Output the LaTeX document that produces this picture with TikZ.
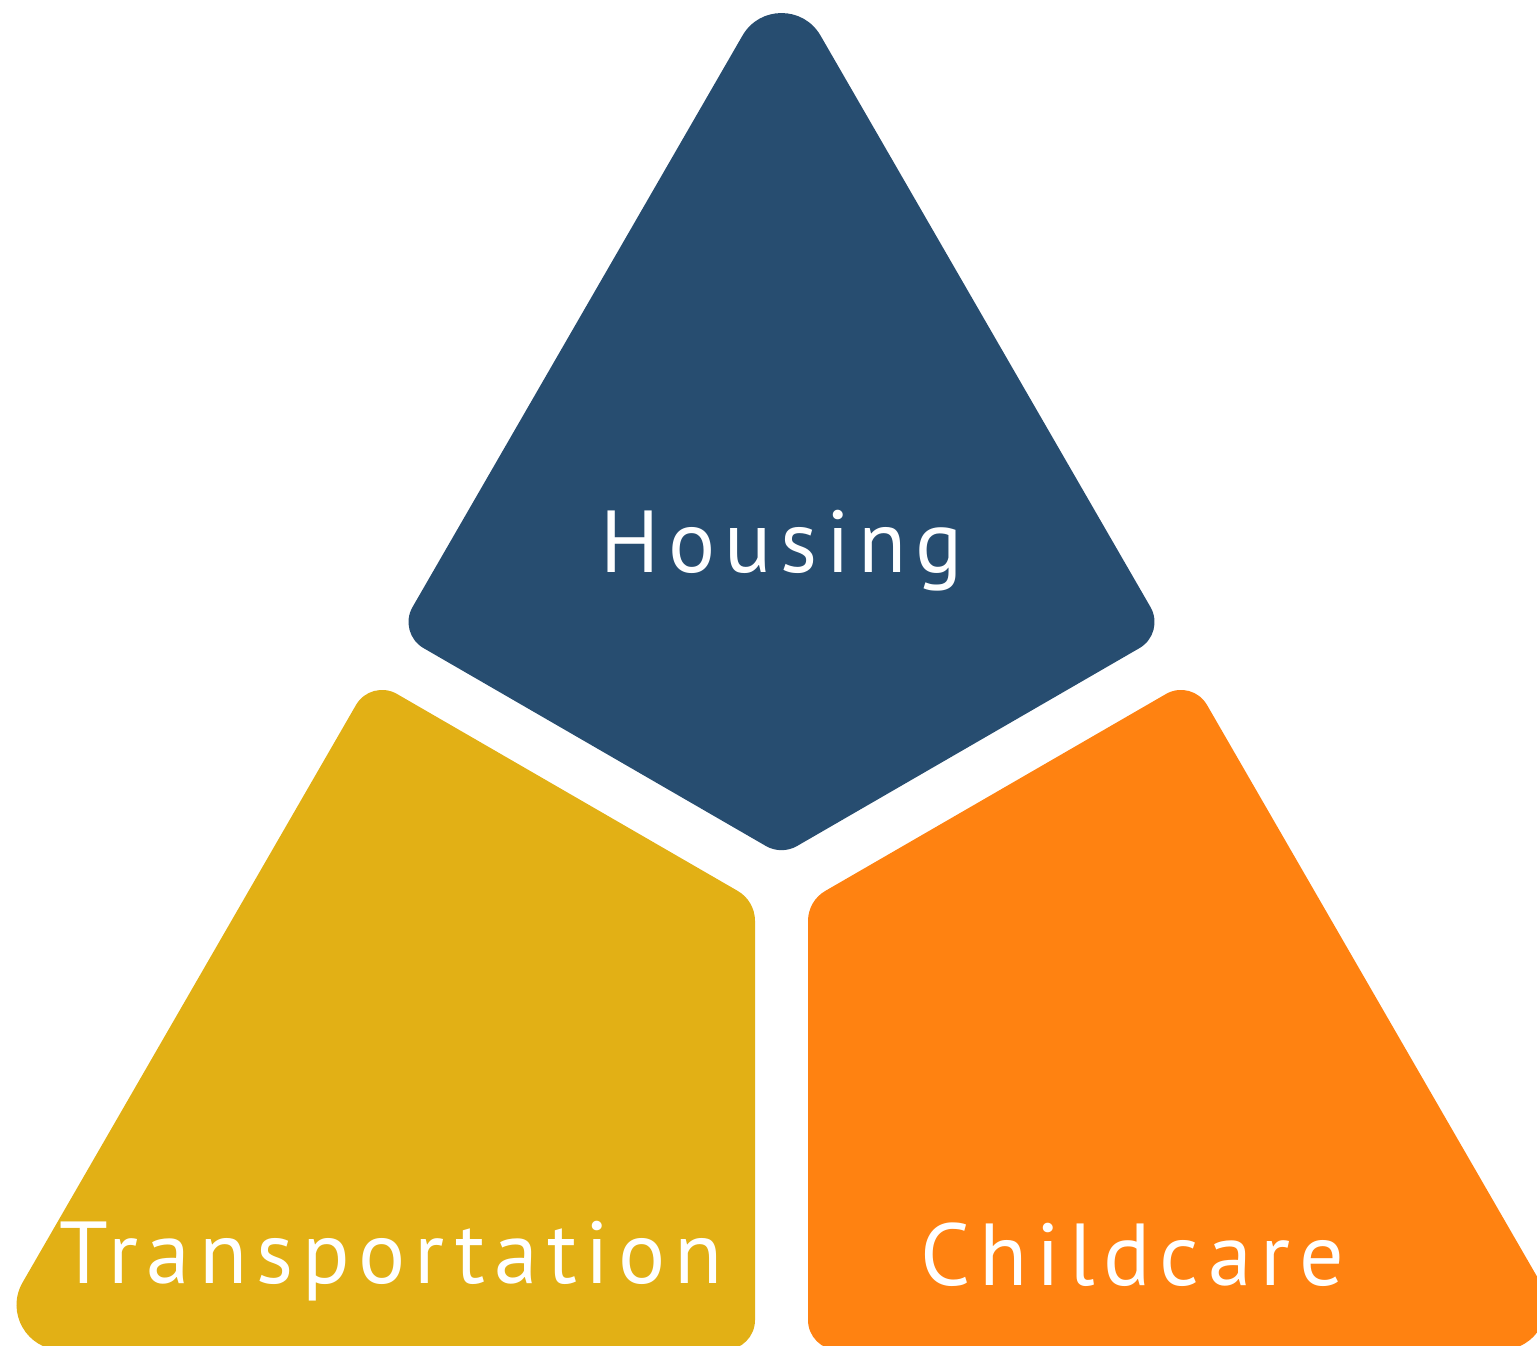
\documentclass[tikz,border=0pt]{standalone}
\usepackage{fontspec}
\newfontfamily\tagfont[LetterSpace=10]{PT Sans}
\tikzset{every picture/.style={line width=0.75pt}}
\tikzset{tagtext/.style={anchor=base,text={rgb, 255:red, 255; green, 255; blue, 255 },font=\tagfont\fontsize{66}{66}\selectfont}}

\begin{document}
\begin{tikzpicture}[x=0.75pt,y=0.75pt,yscale=-1,xscale=1]
		\path [use as bounding box,clip] (0,0) rectangle (1537,1345);

		%Shape: Polygon Curved (top) 
		\draw [draw opacity=0][fill={rgb, 255:red, 39; green, 77; blue, 112 }  ,fill opacity=1 ] (742.5,35.55) .. controls (759.83,5.53) and (803.17,5.53) .. (820.5,35.55) -- (1150.48,607.07) .. controls (1158.76,621.42) and (1153.85,639.77) .. (1139.51,648.07) -- (797.08,845.99) .. controls (787.44,851.57) and (775.56,851.57) .. (765.92,845.99) -- (423.49,648.07) .. controls (409.15,639.77) and (404.24,621.42) .. (412.52,607.07) -- cycle ;
		%Shape: Polygon Curved (left) 
		\draw [draw opacity=0][fill={rgb, 255:red, 226; green, 176; blue, 21 }  ,fill opacity=1 ] (61.59,1350) .. controls (26.93,1350) and (5.26,1312.47) .. (22.59,1282.45) -- (356.02,704.93) .. controls (364.3,690.58) and (382.65,685.67) .. (396.99,693.97) -- (737.68,890.89) .. controls (748.4,897.08) and (755,908.52) .. (755,920.9) -- (755,1320) .. controls (755,1336.57) and (741.57,1350) .. (725,1350) -- cycle ;
		%Shape: Polygon Curved (right) 
		\draw [draw opacity=0][fill={rgb, 255:red, 255; green, 130; blue, 17 }  ,fill opacity=1 ] (1501.41,1350) .. controls (1536.07,1350) and (1557.74,1312.47) .. (1540.41,1282.45) -- (1206.98,704.93) .. controls (1198.7,690.58) and (1180.35,685.67) .. (1166.01,693.97) -- (825.32,890.89) .. controls (814.6,897.08) and (808,908.52) .. (808,920.9) -- (808,1320) .. controls (808,1336.57) and (821.43,1350) .. (838,1350) -- cycle ;

		% Text Node
		\node [tagtext] (housing) at (781.5,572) {Housing};
		% Text Node
		\node [tagtext] (transportation) at (391,1283) {Transportation};
		% Text Node
		\node [tagtext] (childcare) at (1132.5,1285) {Childcare};

\end{tikzpicture}
\end{document}
